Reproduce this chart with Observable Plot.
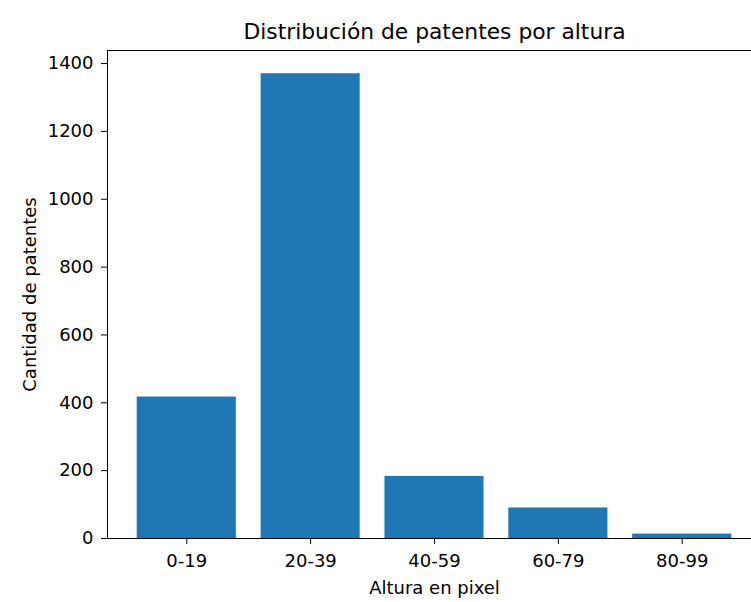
<!DOCTYPE html>
<html><head><meta charset="utf-8">
<script src="https://cdn.jsdelivr.net/npm/d3@7"></script>
<script src="https://cdn.jsdelivr.net/npm/@observablehq/plot@0.6"></script>
<style>
body{margin:0;background:#fff;}
#wrap{width:751px;height:602px;overflow:hidden;}
#wrap svg{max-width:none !important;}
</style></head><body><div id="wrap"></div>
<script>
const categories = ["0-19","20-39","40-59","60-79","80-99"];
const counts = [417, 1370, 183, 90, 13];
const yTicks = [0,200,400,600,800,1000,1200,1400];
const title = "Distribución de patentes por altura";
const xLabel = "Altura en pixel";
const yLabel = "Cantidad de patentes";
const data = categories.map((c,i)=>({range:c, count:counts[i]}));
const chart = Plot.plot({
  width: 762, height: 602,
  marginLeft: 107, marginRight: 1, marginTop: 50, marginBottom: 64,
  style: {fontFamily: "DejaVu Sans", fontSize: "18px", color: "#000", background: "#fff", maxWidth: "none"},
  x: {domain: categories, paddingInner: 0.2, paddingOuter: 0.24, round: false, axis: null},
  y: {domain: [0, 1438.5], axis: null},
  marks: [
    Plot.barY(data, {x:"range", y:"count", fill:"#1f77b4"}),
    Plot.frame({stroke:"#000"}),
    Plot.axisY({ticks: yTicks, tickFormat: d3.format("d"), tickSize:6, tickPadding:8, label:null, fontSize:18}),
    Plot.axisX({tickSize:6, tickPadding:10, label:null, fontSize:18}),
    Plot.text([title], {text: d=>d, frameAnchor:"top", lineAnchor:"bottom", textAnchor:"middle", dy:-11.7, fontSize:21.8}),
    Plot.text([xLabel], {text: d=>d, frameAnchor:"bottom", lineAnchor:"bottom", textAnchor:"middle", dy:55.5, fontSize:18}),
    Plot.text([yLabel], {text: d=>d, frameAnchor:"left", lineAnchor:"bottom", textAnchor:"middle", dx:-72, rotate:-90, fontSize:18})
  ]
});
document.getElementById("wrap").appendChild(chart);
</script></body></html>
